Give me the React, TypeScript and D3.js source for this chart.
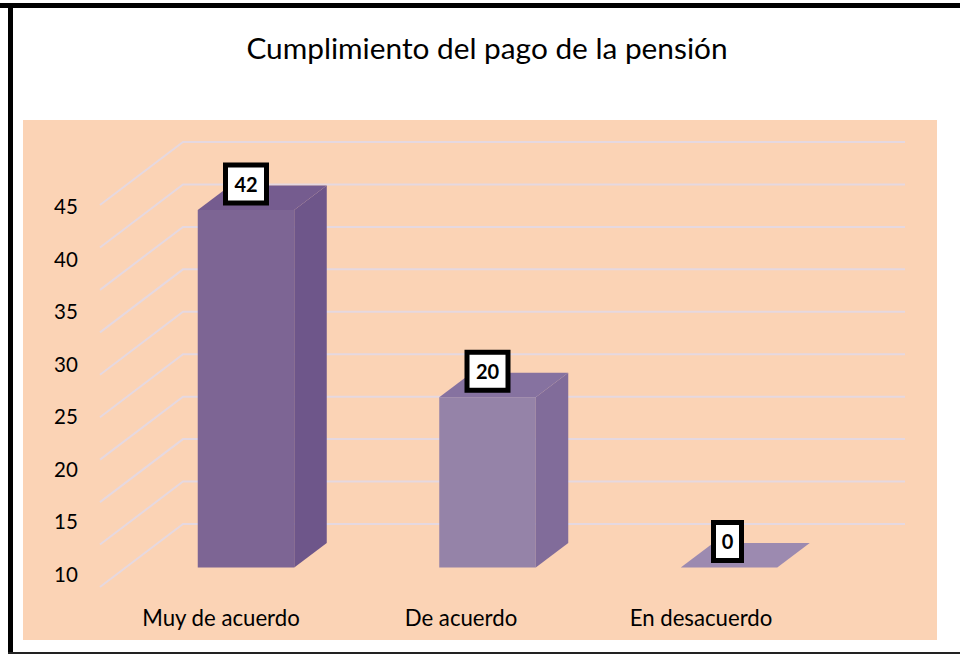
import React from "react";
import * as d3 from "d3";

const title = "Cumplimiento del pago de la pensión";
const categories = ["Muy de acuerdo", "De acuerdo", "En desacuerdo"];
const values = [42, 20, 0];
const gridValues = [0, 5, 10, 15, 20, 25, 30, 35, 40, 45];
const axisLabels = ["45", "40", "35", "30", "25", "20", "15", "10"];
const frontColors = ["#7D6594", "#9583A8", "#9C8AB0"];
const sideColors = ["#6E568A", "#816C9A", "#8A76A2"];
const topColors = ["#755C8F", "#8672A0", "#9C8AB0"];

const FONT = "Lato, Carlito, Calibri, sans-serif";
const DEPTH_X = 83, DEPTH_Y = 63;
const BAR_DX = 32.5, BAR_DY = 24.5;
const BAR_W = 96.5, BAR_BASE = 567.5;

export default function App() {
  const gridY = d3.scaleLinear().domain([0, 45]).range([587, 205]);
  const barH = d3.scaleLinear().domain([0, 42]).range([0, 357.5]);
  const barX = d3.scalePoint<string>().domain(categories).range([246, 729]);
  const labelX = d3.scalePoint<string>().domain(categories).range([221, 701]);
  const axisY = d3.scalePoint<string>().domain(axisLabels).range([205.5, 573]);
  const poly = (p: [number, number][]) => d3.line()(p) + "Z";

  return (
    <svg width={960} height={654} style={{ position: "fixed", left: 0, top: 0, display: "block" }} fontFamily={FONT}>
      <rect width={960} height={654} fill="#fff" />
      <rect x={0} y={3} width={960} height={5} fill="#000" />
      <rect x={8} y={3} width={5} height={651} fill="#000" />
      <rect x={8} y={652} width={952} height={2} fill="#222" />
      <rect x={23} y={120} width={914} height={520} fill="#FBD3B5" />
      <text x={487} y={59} textAnchor="middle" fontSize={29.8} fill="#000">{title}</text>

      {gridValues.map(v => (
        <polyline
          key={v}
          points={`100,${gridY(v)} ${100 + DEPTH_X},${gridY(v) - DEPTH_Y} 905,${gridY(v) - DEPTH_Y}`}
          fill="none" stroke="#E5D8E0" strokeWidth={2}
        />
      ))}

      {axisLabels.map(l => (
        <text key={l} x={66} y={axisY(l)! + 8.5} textAnchor="middle" fontSize={20.5} fill="#000">{l}</text>
      ))}

      {categories.map((c, i) => {
        const cx = barX(c)!;
        const x0 = cx - BAR_W / 2, x1 = cx + BAR_W / 2;
        const yTop = BAR_BASE - barH(values[i]);
        const h = barH(values[i]);
        return (
          <g key={c}>
            {h > 0 && <rect x={x0} y={yTop} width={BAR_W} height={h} fill={frontColors[i]} />}
            {h > 0 && (
              <path
                d={poly([[x1, yTop], [x1 + BAR_DX, yTop - BAR_DY], [x1 + BAR_DX, BAR_BASE - BAR_DY], [x1, BAR_BASE]])}
                fill={sideColors[i]}
              />
            )}
            <path
              d={poly([[x0, yTop], [x1, yTop], [x1 + BAR_DX, yTop - BAR_DY], [x0 + BAR_DX, yTop - BAR_DY]])}
              fill={topColors[i]}
            />
          </g>
        );
      })}

      {categories.map((c, i) => {
        const text = String(values[i]);
        const w = text.length > 1 ? 41 : 28;
        const cx = barX(c)! + (text.length > 1 ? 0 : -1.5);
        const cy = BAR_BASE - barH(values[i]) - 26;
        return (
          <g key={c + "-label"}>
            <rect x={cx - w / 2} y={cy - 19} width={w} height={38} fill="#fff" stroke="#000" strokeWidth={5} />
            <text x={cx} y={cy + 7.5} textAnchor="middle" fontSize={20} fontWeight={700} fill="#000">{text}</text>
          </g>
        );
      })}

      {categories.map(c => (
        <text key={c + "-cat"} x={labelX(c)!} y={626} textAnchor="middle" fontSize={22.2} fill="#000">{c}</text>
      ))}
    </svg>
  );
}
